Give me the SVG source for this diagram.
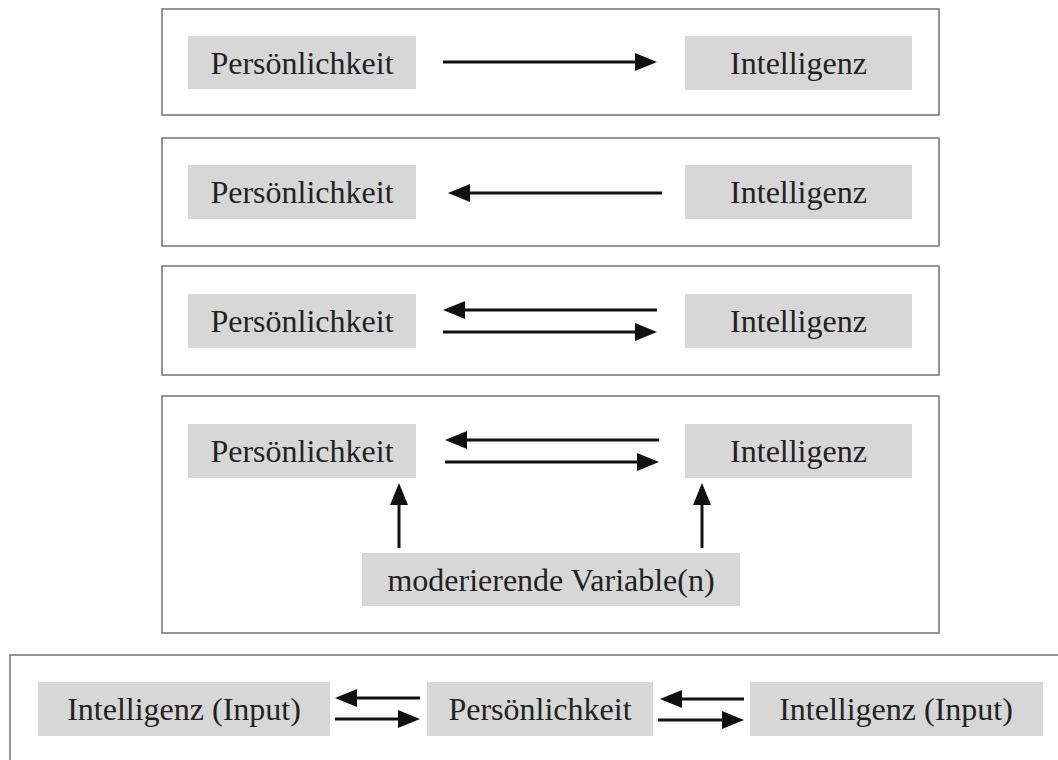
<svg xmlns="http://www.w3.org/2000/svg" width="1058" height="760" viewBox="0 0 1058 760">
<style>
.frame{fill:#ffffff;stroke:#7a7a7a;stroke-width:1.6}
.node rect{fill:#d7d7d7}
.node text{font-family:"Liberation Serif","Times New Roman",serif;font-size:32px;fill:#222222;text-anchor:middle}
.arr{stroke:#111111;stroke-width:3;fill:none;marker-end:url(#ah)}
</style>
<defs>
<marker id="ah" markerUnits="userSpaceOnUse" markerWidth="22" markerHeight="18" refX="16" refY="9" orient="auto">
<path d="M0,0 L22,9 L0,18 Z" fill="#111111"/>
</marker>
</defs>
<rect width="1058" height="760" fill="#ffffff"/>
<g id="frames">
<rect class="frame" x="162" y="9" width="777" height="106"/>
<rect class="frame" x="162" y="138" width="777" height="108"/>
<rect class="frame" x="162" y="266" width="777" height="109"/>
<rect class="frame" x="162" y="396" width="777" height="237"/>
<rect class="frame" x="10" y="655" width="1070" height="130"/>
</g>
<g id="p1" class="node"><rect x="188" y="36" width="228" height="53"/><text x="302" y="74">Persönlichkeit</text></g>
<g id="i1" class="node"><rect x="685" y="36" width="227" height="54"/><text x="798.5" y="74">Intelligenz</text></g>
<g id="p2" class="node"><rect x="188" y="165" width="228" height="54"/><text x="302" y="203">Persönlichkeit</text></g>
<g id="i2" class="node"><rect x="685" y="165" width="227" height="54"/><text x="798.5" y="203">Intelligenz</text></g>
<g id="p3" class="node"><rect x="188" y="294" width="228" height="54"/><text x="302" y="332">Persönlichkeit</text></g>
<g id="i3" class="node"><rect x="685" y="294" width="227" height="54"/><text x="798.5" y="332">Intelligenz</text></g>
<g id="p4" class="node"><rect x="188" y="424" width="228" height="54"/><text x="302" y="462">Persönlichkeit</text></g>
<g id="i4" class="node"><rect x="685" y="424" width="227" height="54"/><text x="798.5" y="462">Intelligenz</text></g>
<g id="m4" class="node"><rect x="362" y="553" width="378" height="53"/><text x="551" y="591">moderierende Variable(n)</text></g>
<g id="i5a" class="node"><rect x="38" y="682" width="292" height="54"/><text x="184" y="720">Intelligenz (Input)</text></g>
<g id="p5" class="node"><rect x="427" y="682" width="226" height="54"/><text x="540" y="720">Persönlichkeit</text></g>
<g id="i5b" class="node"><rect x="750" y="682" width="293" height="54"/><text x="896" y="720">Intelligenz (Input)</text></g>
<g id="connectors">
<line class="arr" x1="443" y1="62" x2="651" y2="62"/>
<line class="arr" x1="662" y1="193" x2="454" y2="193"/>
<line class="arr" x1="657" y1="310" x2="449" y2="310"/>
<line class="arr" x1="443" y1="332" x2="651" y2="332"/>
<line class="arr" x1="659" y1="440" x2="451" y2="440"/>
<line class="arr" x1="445" y1="462" x2="653" y2="462"/>
<line class="arr" x1="399" y1="548" x2="399" y2="489"/>
<line class="arr" x1="702" y1="548" x2="702" y2="489"/>
<line class="arr" x1="420" y1="698" x2="341" y2="698"/>
<line class="arr" x1="335" y1="719" x2="414" y2="719"/>
<line class="arr" x1="744" y1="699" x2="666" y2="699"/>
<line class="arr" x1="658" y1="720" x2="738" y2="720"/>
</g>
</svg>
